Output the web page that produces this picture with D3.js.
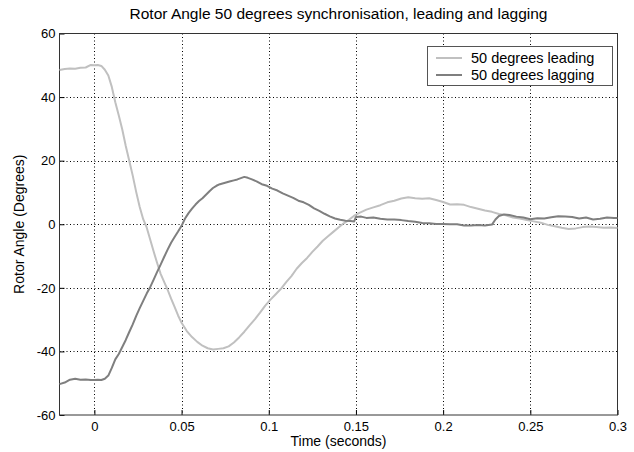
<!DOCTYPE html>
<html><head><meta charset="utf-8">
<script src="https://cdn.jsdelivr.net/npm/d3@7"></script>
<style>body{margin:0;background:#fff;} text{font-family:"Liberation Sans",Arial,sans-serif;}</style>
</head><body><svg id="c" width="634" height="452"></svg>
<script>
const title = "Rotor Angle 50 degrees synchronisation, leading and lagging";
const xLabel = "Time (seconds)";
const yLabel = "Rotor Angle (Degrees)";
const seriesNames = ["50 degrees leading", "50 degrees lagging"];
const xTicks = [0, 0.05, 0.1, 0.15, 0.2, 0.25, 0.3];
const yTicks = [-60, -40, -20, 0, 20, 40, 60];

const leadT = [-0.02,-0.017,-0.014,-0.011,-0.008,-0.005,-0.002,0,0.002,0.004,0.006,0.008,0.010,0.012,0.014,0.016,0.018,0.020,0.022,0.024,0.026,0.028,0.030,0.032,0.034,0.036,0.038,0.040,0.042,0.044,0.046,0.048,0.050,0.053,0.056,0.059,0.062,0.065,0.068,0.071,0.074,0.077,0.080,0.083,0.086,0.089,0.092,0.095,0.098,0.101,0.104,0.107,0.110,0.113,0.116,0.119,0.122,0.125,0.128,0.131,0.134,0.137,0.140,0.143,0.146,0.149,0.152,0.156,0.160,0.164,0.168,0.172,0.176,0.180,0.184,0.188,0.192,0.196,0.200,0.204,0.208,0.212,0.216,0.220,0.224,0.228,0.232,0.236,0.240,0.244,0.248,0.252,0.256,0.260,0.264,0.268,0.272,0.276,0.280,0.284,0.288,0.292,0.296,0.300];
const leadV = [48.5,48.8,49.0,48.9,49.2,49.3,50.1,50.0,50.1,49.8,48.6,46.8,43.2,38.4,34.2,29.8,24.6,20.0,15.3,10.1,5.4,1.6,-1.0,-4.8,-8.6,-12.2,-15.6,-18.1,-20.6,-23.4,-26.0,-28.7,-31.0,-33.6,-35.5,-37.0,-38.2,-39.0,-39.4,-39.2,-39.0,-38.4,-37.2,-35.6,-33.8,-31.8,-29.9,-27.8,-25.6,-23.7,-22.0,-20.3,-18.2,-16.3,-14.0,-12.2,-10.6,-8.7,-7.0,-5.2,-3.8,-2.4,-1.0,0.3,1.4,2.7,3.6,4.6,5.3,6.0,6.9,7.4,8.1,8.5,8.2,8.0,8.2,7.6,7.0,6.2,6.3,6.1,5.4,4.9,4.3,3.9,3.2,2.8,2.1,1.8,1.3,0.9,0.5,-0.2,-0.6,-1.1,-1.5,-1.3,-0.9,-0.7,-0.9,-1.1,-1.0,-1.2];

const lagT = [-0.02,-0.017,-0.014,-0.011,-0.008,-0.005,-0.002,0,0.002,0.004,0.006,0.008,0.010,0.012,0.014,0.016,0.018,0.020,0.022,0.024,0.026,0.028,0.030,0.032,0.034,0.036,0.038,0.040,0.042,0.044,0.046,0.048,0.050,0.052,0.054,0.056,0.058,0.060,0.062,0.064,0.066,0.068,0.070,0.072,0.074,0.076,0.078,0.080,0.082,0.084,0.086,0.088,0.090,0.093,0.096,0.099,0.102,0.105,0.108,0.111,0.114,0.117,0.120,0.123,0.126,0.129,0.132,0.135,0.138,0.141,0.144,0.147,0.149,0.150,0.153,0.156,0.160,0.164,0.168,0.172,0.176,0.180,0.184,0.188,0.192,0.196,0.200,0.204,0.208,0.212,0.216,0.220,0.224,0.228,0.230,0.232,0.235,0.238,0.242,0.246,0.250,0.254,0.258,0.262,0.266,0.270,0.274,0.278,0.282,0.286,0.290,0.294,0.298,0.300];
const lagV = [-50.3,-49.8,-48.9,-48.6,-48.9,-48.8,-49.0,-49.0,-48.9,-49.0,-48.6,-47.6,-45.2,-42.5,-40.8,-38.6,-36.4,-33.9,-31.5,-28.8,-26.4,-24.1,-21.8,-19.8,-17.4,-15.0,-12.7,-10.3,-8.0,-5.8,-4.0,-2.3,-0.5,1.8,3.5,4.9,6.2,7.3,8.2,9.3,10.4,11.4,12.1,12.6,12.9,13.2,13.5,13.8,14.1,14.5,14.9,14.6,14.2,13.5,12.6,12.1,11.2,10.6,9.7,9.0,8.3,7.4,6.9,6.1,5.0,4.2,3.3,2.5,1.8,1.4,1.1,1.0,0.9,2.3,2.4,2.0,2.1,1.7,1.5,1.5,1.3,1.0,0.8,0.4,0.3,0.1,0.1,0.0,0.0,-0.4,-0.4,-0.2,-0.4,-0.1,1.5,2.6,3.1,2.9,2.4,2.1,1.6,1.9,1.8,2.2,2.5,2.4,2.3,1.8,2.1,1.5,1.7,2.1,2.0,2.0];

const L = 59.5, R = 617.5, T = 33.5, B = 415;
const svg = d3.select("#c");
const x = d3.scaleLinear().domain([-0.02, 0.3]).range([L, R]);
const y = d3.scaleLinear().domain([-60, 60]).range([B, T]);
const fmt = d => String(d).replace("\u2212", "-");

// grid
const g = svg.append("g");
g.selectAll(".gx").data(xTicks.filter(t => t > -0.02 && t < 0.3)).enter().append("line")
  .attr("x1", d => Math.round(x(d)) + 0.5).attr("x2", d => Math.round(x(d)) + 0.5).attr("y1", T).attr("y2", B)
  .attr("stroke", "#000").attr("stroke-width", 1).attr("stroke-dasharray", "1,2.5");
g.selectAll(".gy").data(yTicks.filter(t => t > -60 && t < 60)).enter().append("line")
  .attr("x1", L).attr("x2", R).attr("y1", d => Math.round(y(d))+0.5).attr("y2", d => Math.round(y(d))+0.5)
  .attr("stroke", "#000").attr("stroke-width", 1).attr("stroke-dasharray", "1,2.5");

// axes
const xAxis = d3.axisBottom(x).tickValues(xTicks).tickSize(-5).tickPadding(7).tickFormat(fmt);
const yAxis = d3.axisLeft(y).tickValues(yTicks).tickSize(-5).tickPadding(4).tickFormat(fmt);
const xa = svg.append("g").attr("transform", `translate(0,${B})`).call(xAxis);
const ya = svg.append("g").attr("transform", `translate(${L},0)`).call(yAxis);
[xa, ya].forEach(a => {
  a.select(".domain").remove();
  a.selectAll("text").attr("font-size", 13).attr("fill", "#000").attr("font-family", "Liberation Sans, Arial, sans-serif");
  a.selectAll("line").attr("stroke", "#000");
});
// frame
svg.append("rect").attr("x", L).attr("y", T).attr("width", R - L).attr("height", B - T)
  .attr("fill", "none").attr("stroke", "#333").attr("stroke-width", 1);

// lines
const line = d3.line().x(d => x(d[0])).y(d => y(d[1]));
const leadData = leadT.map((t, i) => [t, leadV[i]]);
const lagData = lagT.map((t, i) => [t, lagV[i]]);
svg.append("path").datum(leadData).attr("d", line).attr("fill", "none").attr("stroke", "#c0c0c0").attr("stroke-width", 2).attr("stroke-linejoin","round");
svg.append("path").datum(lagData).attr("d", line).attr("fill", "none").attr("stroke", "#7f7f7f").attr("stroke-width", 2).attr("stroke-linejoin","round");

// legend
const lg = svg.append("g");
lg.append("rect").attr("x", 427.5).attr("y", 46.5).attr("width", 185).attr("height", 39)
  .attr("fill", "#fff").attr("stroke", "#555");
const colors = ["#c0c0c0", "#7f7f7f"];
seriesNames.forEach((n, i) => {
  const yy = 58 + i * 17;
  lg.append("line").attr("x1", 436).attr("x2", 462).attr("y1", yy).attr("y2", yy).attr("stroke", colors[i]).attr("stroke-width", 2);
  lg.append("text").attr("x", 471).attr("y", yy + 5).attr("font-size", 14.5).text(n);
});

// labels
svg.append("text").attr("x", (L + R) / 2).attr("y", 19).attr("text-anchor", "middle").attr("font-size", 15.5).text(title);
svg.append("text").attr("x", (L + R) / 2).attr("y", 446).attr("text-anchor", "middle").attr("font-size", 14).text(xLabel);
svg.append("text").attr("transform", `translate(24,${(T + B) / 2}) rotate(-90)`).attr("text-anchor", "middle").attr("font-size", 14).text(yLabel);
</script></body></html>
